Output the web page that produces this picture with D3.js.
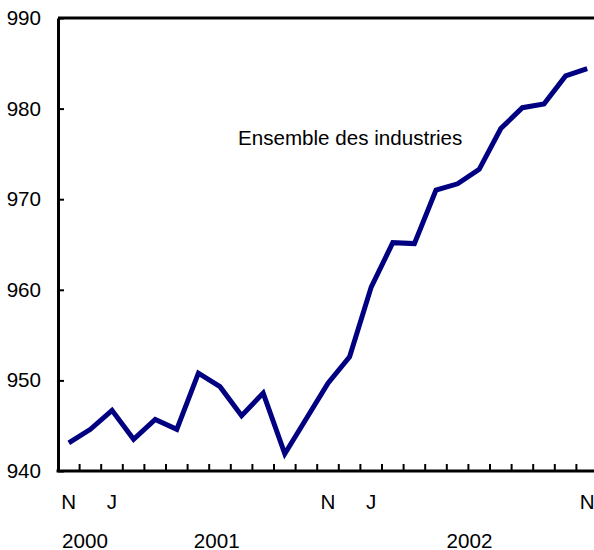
<html>
  <head>
    <meta charset="utf-8">
    <title>Ensemble des industries</title>
    <script src="https://cdnjs.cloudflare.com/ajax/libs/d3/7.8.5/d3.min.js"></script>
    <style>
      body { margin: 0; background: white; }
      text { font-family: "Liberation Sans", Arial, sans-serif; fill: #000; }
    </style>
  </head>
  <body>
    <script>
      // monthly values, Nov 2000 .. Nov 2002
      var months = ["2000-11", "2000-12",
        "2001-01", "2001-02", "2001-03", "2001-04", "2001-05", "2001-06",
        "2001-07", "2001-08", "2001-09", "2001-10", "2001-11", "2001-12",
        "2002-01", "2002-02", "2002-03", "2002-04", "2002-05", "2002-06",
        "2002-07", "2002-08", "2002-09", "2002-10", "2002-11"];
      var values = [943.1, 944.6, 946.7, 943.5, 945.7, 944.6, 950.8, 949.3,
        946.1, 948.6, 941.9, 945.8, 949.7, 952.6, 960.3, 965.2, 965.1,
        971.0, 971.7, 973.3, 977.8, 980.1, 980.5, 983.6, 984.4];
      var monthLabels = ["N", "J", "N", "J", "N"];
      var monthLabelAt = ["2000-11", "2001-01", "2001-11", "2002-01", "2002-11"];
      var years = ["2000", "2001", "2002"];
      var yTicks = [940, 950, 960, 970, 980, 990];
      var seriesName = "Ensemble des industries";

      var width = 594, height = 550;
      var plotLeft = 58, plotRight = 598, plotTop = 18, plotBottom = 471;
      var fontSize = "20.6px";
      // year label anchors, in months from the start of the axis
      var yearAnchor = [1.25, 7.35, 19.05];

      var svg = d3.select("body").append("svg")
        .attr("width", width)
        .attr("height", height);

      var x = d3.scaleBand()
        .domain(months)
        .range([plotLeft, plotRight])
        .padding(0);

      var xPos = d3.scaleLinear()
        .domain([0, months.length])
        .range([plotLeft, plotRight]);

      var y = d3.scaleLinear()
        .domain([940, 990])
        .range([plotBottom, plotTop]);

      // top frame line
      svg.append("line")
        .attr("x1", plotLeft).attr("x2", plotRight)
        .attr("y1", y(990)).attr("y2", y(990))
        .attr("stroke", "#000").attr("stroke-width", 3);

      // y axis, ticks pointing inward
      var yAxis = svg.append("g")
        .attr("transform", "translate(" + plotLeft + ",0)")
        .call(d3.axisLeft(y)
          .tickValues(yTicks)
          .tickFormat(d3.format("d"))
          .tickSizeInner(-6)
          .tickSizeOuter(0)
          .tickPadding(17));
      yAxis.select(".domain").attr("stroke", "#000").attr("stroke-width", 3);
      yAxis.selectAll(".tick line").attr("stroke", "#000").attr("stroke-width", 2);
      yAxis.selectAll(".tick text")
        .style("font-family", "'Liberation Sans', Arial, sans-serif")
        .style("font-size", fontSize)
        .attr("fill", "#000");

      // x axis line and month ticks (at month boundaries)
      svg.append("line")
        .attr("x1", plotLeft - 1.5).attr("x2", plotRight)
        .attr("y1", plotBottom).attr("y2", plotBottom)
        .attr("stroke", "#000").attr("stroke-width", 3);

      svg.selectAll(".xtick")
        .data(months.slice(1))
        .enter()
        .append("line")
        .attr("class", "xtick")
        .attr("x1", function(d) { return x(d); })
        .attr("x2", function(d) { return x(d); })
        .attr("y1", plotBottom)
        .attr("y2", plotBottom - 7)
        .attr("stroke", "#000")
        .attr("stroke-width", 2);

      // month letters
      svg.selectAll(".mlabel")
        .data(monthLabels)
        .enter()
        .append("text")
        .attr("class", "mlabel")
        .attr("x", function(d, i) { return x(monthLabelAt[i]) + x.bandwidth() / 2; })
        .attr("y", 509)
        .attr("text-anchor", "middle")
        .style("font-size", fontSize)
        .text(function(d) { return d; });

      // years
      svg.selectAll(".ylabel")
        .data(years)
        .enter()
        .append("text")
        .attr("class", "ylabel")
        .attr("x", function(d, i) { return xPos(yearAnchor[i]); })
        .attr("y", 548)
        .attr("text-anchor", "middle")
        .style("font-size", fontSize)
        .text(function(d) { return d; });

      // the series
      var line = d3.line()
        .x(function(d, i) { return x(months[i]) + x.bandwidth() / 2; })
        .y(function(d) { return y(d); });

      svg.append("path")
        .datum(values)
        .attr("d", line)
        .attr("fill", "none")
        .attr("stroke", "#000080")
        .attr("stroke-width", 5)
        .attr("stroke-linejoin", "miter");

      svg.append("text")
        .attr("x", 238)
        .attr("y", 145)
        .style("font-size", fontSize)
        .text(seriesName);
    </script>
  </body>
</html>
